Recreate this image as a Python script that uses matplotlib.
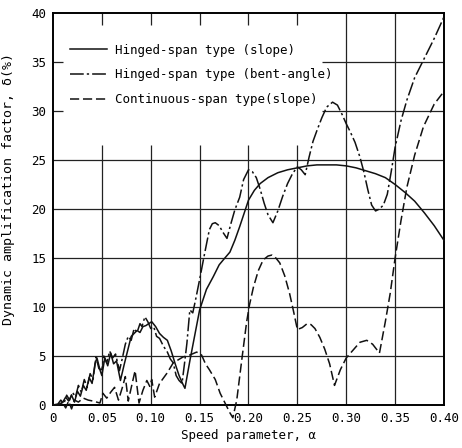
import matplotlib
matplotlib.use("Agg")
import matplotlib.pyplot as plt

# hinged-span type (slope) - solid
slope_x = [0, 0.005, 0.01, 0.013, 0.016, 0.019, 0.022, 0.025, 0.028, 0.031, 0.034,
           0.037, 0.040, 0.043, 0.045, 0.048, 0.050, 0.053, 0.056, 0.059, 0.062,
           0.065, 0.069, 0.073, 0.077, 0.080, 0.083, 0.086, 0.089, 0.092, 0.095,
           0.098, 0.101, 0.105, 0.109, 0.113, 0.117, 0.121, 0.125, 0.129, 0.133,
           0.135, 0.140, 0.145, 0.150, 0.157, 0.164, 0.170, 0.175, 0.181, 0.186,
           0.191, 0.196, 0.200, 0.206, 0.212, 0.220, 0.230, 0.240, 0.250, 0.260,
           0.270, 0.280, 0.290, 0.300, 0.310, 0.320, 0.330, 0.340, 0.350, 0.360,
           0.370, 0.380, 0.390, 0.400]
slope_y = [0, 0, 0.3, 0.8, 0.4, 1.0, 0.3, 1.4, 0.9, 2.0, 1.5,
           2.8, 2.2, 4.2, 4.8, 3.6, 3.0, 4.8, 4.0, 5.3, 4.2,
           4.5, 2.5, 4.2, 5.8, 7.0, 7.3, 7.6, 7.4, 8.0, 8.1,
           8.3, 8.5, 8.0, 7.3, 6.9, 6.6, 5.5, 4.2, 3.0, 2.1,
           1.7, 4.5, 7.1, 9.7, 11.8, 13.1, 14.3, 14.9, 15.6, 16.8,
           18.2, 19.7, 20.9, 21.9, 22.6, 23.2, 23.7, 24.0, 24.2, 24.4,
           24.5, 24.5, 24.5, 24.4, 24.2, 23.9, 23.6, 23.2, 22.5, 21.7,
           20.8, 19.6, 18.3, 16.8]

# hinged-span type (bent-angle) - dash-dot
bent_x = [0, 0.005, 0.008, 0.011, 0.014, 0.017, 0.020, 0.023, 0.026, 0.029, 0.032,
          0.035, 0.038, 0.041, 0.044, 0.047, 0.050, 0.052, 0.055, 0.058, 0.061,
          0.064, 0.068, 0.071, 0.074, 0.077, 0.080, 0.083, 0.086, 0.089, 0.091,
          0.094, 0.097, 0.100, 0.103, 0.106, 0.109, 0.113, 0.117, 0.120, 0.123,
          0.126, 0.129, 0.132, 0.135, 0.137, 0.140, 0.143, 0.146, 0.150, 0.155,
          0.160, 0.163, 0.166, 0.170, 0.174, 0.178, 0.182, 0.186, 0.191, 0.195,
          0.200, 0.204, 0.208, 0.212, 0.216, 0.220, 0.225, 0.230, 0.235, 0.240,
          0.245, 0.250, 0.254, 0.258, 0.262, 0.266, 0.270, 0.275, 0.280, 0.286,
          0.291, 0.296, 0.300, 0.304, 0.309, 0.314, 0.318, 0.322, 0.326, 0.330,
          0.334, 0.338, 0.342, 0.346, 0.350, 0.356, 0.362, 0.370, 0.379, 0.390,
          0.400]
bent_y = [0, 0.1, 0.5, 0.1, 1.0, 0.5, 1.3, 0.8, 2.0, 1.3, 2.6,
          1.8, 3.2, 2.6, 4.9, 3.7, 3.6, 5.0, 4.3, 5.5, 4.8,
          5.2, 3.5, 4.8, 6.2, 7.0, 6.6, 7.8, 7.4, 8.3, 8.0,
          9.0, 8.5, 7.8, 8.0, 7.0, 6.8, 6.0, 5.4, 4.7, 4.3,
          3.0, 2.5, 2.2, 4.6, 6.3, 9.7, 9.4, 10.8, 12.8, 15.4,
          17.9, 18.5, 18.6, 18.3, 17.6, 17.0, 18.5, 19.9, 21.2, 23.0,
          24.0, 23.8, 23.2, 22.0, 20.6, 19.4, 18.6, 19.8, 21.3, 22.6,
          23.6, 24.3, 24.0, 23.5, 25.3, 26.9, 28.0, 29.3, 30.4, 30.9,
          30.6, 29.6, 28.7, 27.9, 26.8, 25.3, 23.8, 22.0, 20.4, 19.8,
          20.0, 20.4, 21.5, 23.8, 26.3, 29.0, 31.1, 33.4, 35.2, 37.4,
          39.6]

# continuous-span type (slope) - dashed
cont_x = [0, 0.005, 0.010, 0.013, 0.016, 0.019, 0.022, 0.026, 0.031, 0.036, 0.041,
          0.048, 0.051, 0.055, 0.059, 0.063, 0.067, 0.071, 0.074, 0.077, 0.081,
          0.084, 0.088, 0.092, 0.096, 0.099, 0.101, 0.104, 0.109, 0.117, 0.123,
          0.133, 0.140, 0.147, 0.152, 0.156, 0.160, 0.166, 0.171, 0.176, 0.181,
          0.184, 0.188, 0.193, 0.198, 0.201, 0.205, 0.210, 0.215, 0.220, 0.224,
          0.228, 0.232, 0.237, 0.242, 0.246, 0.250, 0.255, 0.260, 0.264, 0.268,
          0.273, 0.278, 0.283, 0.288, 0.294, 0.300, 0.307, 0.314, 0.321, 0.327,
          0.334, 0.340, 0.345, 0.350, 0.356, 0.362, 0.370, 0.379, 0.390, 0.400]
cont_y = [0, 0, 0.2, -0.3, 0.4, -0.4, 0.5, 0.3, 0.7, 0.5, 0.4,
          0.2, 1.2, 0.7, 1.3, 1.8, 0.5, 1.8, 2.9, 0.4, 2.2,
          3.5, 0.2, 1.5, 2.5, 1.9, 2.6, 0.8, 2.2, 3.3, 4.3,
          4.9, 5.1, 5.4, 5.1, 4.2, 3.6, 2.6, 1.2, 0.2, -0.8,
          -1.3, 0.5, 4.5, 8.4, 10.2, 12.0, 13.7, 14.8, 15.2, 15.3,
          15.0, 14.5, 13.2, 11.4, 9.6, 7.7, 7.9, 8.3, 8.2, 7.8,
          6.9, 5.7, 4.2, 2.0, 3.6, 4.8, 5.6, 6.4, 6.6, 6.2,
          5.3, 8.5, 11.4, 15.0, 18.8, 22.2, 25.5, 28.4, 30.7, 32.0]

x_ticks = [0, 0.05, 0.10, 0.15, 0.20, 0.25, 0.30, 0.35, 0.40]
x_labels = ["0", "0.05", "0.10", "0.15", "0.20", "0.25", "0.30", "0.35", "0.40"]
y_ticks = [0, 5, 10, 15, 20, 25, 30, 35, 40]

plt.rcParams["font.family"] = ["DejaVu Sans Mono"]
plt.rcParams["font.size"] = 9

fig = plt.figure(figsize=(4.62, 4.48), dpi=100)
ax = fig.add_axes([0.1147, 0.096, 0.8463, 0.875])
ax.set_xlim(0, 0.40)
ax.set_ylim(0, 40)

# grid: lower part full, upper part leaves room for the legend
gcol, glw = "#222222", 0.9
for y in [5, 10, 15, 20, 25]:
    ax.axhline(y, color=gcol, lw=glw, zorder=1)
for y in [30, 35]:
    ax.hlines(y, 0.275, 0.40, color=gcol, lw=glw, zorder=1)
    ax.hlines(y, 0, 0.01, color=gcol, lw=glw, zorder=1)
for x in [0.05, 0.10, 0.15, 0.20, 0.25]:
    ax.vlines(x, 0, 26.5, color=gcol, lw=glw, zorder=1)
    ax.vlines(x, 38.8, 40, color=gcol, lw=glw, zorder=1)
for x in [0.30, 0.35]:
    ax.axvline(x, color=gcol, lw=glw, zorder=1)

lc = "#111111"
ax.plot(slope_x, slope_y, color=lc, lw=1.1, label="Hinged-span type (slope)",
        clip_on=False, zorder=3)
ax.plot(bent_x, bent_y, color=lc, lw=1.1, dashes=(9, 2, 1.5, 2),
        label="Hinged-span type (bent-angle)", clip_on=False, zorder=3)
ax.plot(cont_x, cont_y, color=lc, lw=1.1, dashes=(6, 2.5),
        label="Continuous-span type(slope)", clip_on=False, zorder=3)

ax.set_xticks(x_ticks)
ax.set_xticklabels(x_labels)
ax.set_yticks(y_ticks)
ax.tick_params(length=0, pad=5, labelsize=9)
for s in ax.spines.values():
    s.set_linewidth(1.4)

ax.set_xlabel("Speed parameter, α", fontsize=9, labelpad=3)
ax.set_ylabel("Dynamic amplification factor, δ(%)", fontsize=9.5)
ax.yaxis.set_label_coords(-0.098, 0.55)

ax.legend(loc="upper left", bbox_to_anchor=(0.043, 0.922), frameon=False,
          handlelength=3.0, handletextpad=0.6, labelspacing=0.95,
          borderpad=0, borderaxespad=0, fontsize=9)

fig.savefig("out.png", dpi=100)
